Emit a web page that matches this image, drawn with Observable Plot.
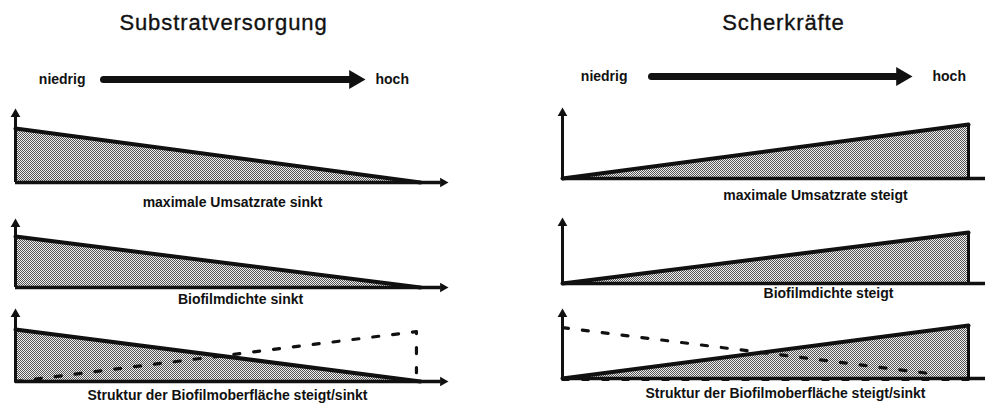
<!DOCTYPE html>
<html>
<head>
<meta charset="utf-8">
<script src="https://cdn.jsdelivr.net/npm/d3@7"></script>
<script src="https://cdn.jsdelivr.net/npm/@observablehq/plot@0.6"></script>
<style>
  html, body { margin: 0; padding: 0; background: #fff; }
  #chart { position: relative; width: 985px; height: 407px; overflow: hidden; background: #fff; }
  #chart svg { position: absolute; left: 0; top: 0; }
</style>
</head>
<body>
<svg width="0" height="0" style="position:absolute">
  <defs>
    <pattern id="halftone" patternUnits="userSpaceOnUse" width="2" height="2">
      <rect width="2" height="2" fill="#eeeeee"></rect>
      <rect width="1" height="1" fill="#555555"></rect>
      <rect x="1" y="1" width="1" height="1" fill="#555555"></rect>
    </pattern>
  </defs>
</svg>
<div id="chart"></div>
<script>
// ---------- data ----------
const columnTitles = ["Substratversorgung", "Scherkräfte"];
const scaleEnds = ["niedrig", "hoch"];
const labelsSubstrat = ["maximale Umsatzrate sinkt", "Biofilmdichte sinkt", "Struktur der Biofilmoberfläche steigt/sinkt"];
const labelsScher = ["maximale Umsatzrate steigt", "Biofilmdichte steigt", "Struktur der Biofilmoberfläche steigt/sinkt"];

// factor level: 0 = niedrig, 1 = hoch ; values = relative magnitude (1 = maximum)
const levels = [0, 1];
const umsatzSubstrat = [1, 0];
const dichteSubstrat = [1, 0];
const strukturSubstrat = [1, 0];
const umsatzScher = [0, 1];
const dichteScher = [0, 1];
const strukturScher = [0, 1];

// dashed "Struktur" curves
const dashSubstratX = [0, 0.99, 0.99];
const dashSubstratY = [0, 0.96, 0.17];
const dashScherX = [0, 0.924];
const dashScherY = [0.96, 0.075];
const dashScherBaseX = [0, 1];
const dashScherBaseY = [0, 0];

// ---------- layout (pixels) ----------
const W = 985, H = 407;
const layout = {
  substrat: {
    x0: 15, x1: 420, tip: 448, titleX: 223,
    header: {shaftStart: 103.5, tip: 365, y: 79, lowEnd: 85, highStart: 375},
    panels: [
      {base: 182, top: 128, axisTop: 108, labelX: 232, labelBase: 206},
      {base: 287, top: 236, axisTop: 218, labelX: 240, labelBase: 303},
      {base: 381, top: 329, axisTop: 308, labelX: 227, labelBase: 399}
    ]
  },
  scher: {
    x0: 562, x1: 968, tip: 1000, titleX: 783,
    header: {shaftStart: 651.5, tip: 912, y: 76, lowEnd: 627, highStart: 932},
    panels: [
      {base: 178, top: 124, axisTop: 107, labelX: 815, labelBase: 199},
      {base: 283, top: 232, axisTop: 217, labelX: 828, labelBase: 297},
      {base: 378, top: 325, axisTop: 308, labelX: 785, labelBase: 397}
    ]
  }
};
const font = '"Liberation Sans", Arial, Helvetica, sans-serif';
const baseStyle = {background: "transparent", fontFamily: font, overflow: "visible"};
const chart = document.getElementById("chart");

function tri(r) { // geometry of d3 triangle symbol for Plot dot radius r
  const a = Math.sqrt(Math.PI * r * r / (3 * Math.sqrt(3)));
  return {c: a, tip: 2 * a, h: 3 * a};
}

// ---------- titles ----------
chart.appendChild(Plot.plot({
  width: W, height: H, margin: 0,
  style: {...baseStyle, letterSpacing: "0.9px"},
  x: {type: "point", domain: columnTitles, range: [layout.substrat.titleX, layout.scher.titleX], padding: 0, axis: null},
  marks: [
    Plot.text(columnTitles, {x: d => d, text: d => d, frameAnchor: "top", dy: 29, lineAnchor: "bottom", fontSize: 22, fill: "#111", stroke: "#111", strokeWidth: 0.35})
  ]
}));

// ---------- header arrows ----------
function header(L) {
  const hd = tri(7);
  const base = L.tip - hd.h;
  return Plot.plot({
    width: W, height: H, style: baseStyle,
    x: {domain: [0, 1], range: [L.shaftStart, base], axis: null},
    y: {domain: [0, 1], range: [L.y, L.y - 1], axis: null},
    marks: [
      Plot.ruleY([0], {x1: 0, x2: 1, stroke: "#111", strokeWidth: 7, strokeLinecap: "round"}),
      Plot.dot([1], {x: d => d, y: 0, symbol: "triangle", r: 7, rotate: 90, fill: "#111", stroke: "none", dx: hd.c}),
      Plot.text([scaleEnds[0]], {x: 0, y: 0, text: d => d, textAnchor: "end", lineAnchor: "middle", dx: L.lowEnd - L.shaftStart, fontSize: 14, fontWeight: "bold", fill: "#111"}),
      Plot.text([scaleEnds[1]], {x: 1, y: 0, text: d => d, textAnchor: "start", lineAnchor: "middle", dx: L.highStart - base, fontSize: 14, fontWeight: "bold", fill: "#111"})
    ]
  });
}
chart.appendChild(header(layout.substrat.header));
chart.appendChild(header(layout.scher.header));

// ---------- panels ----------
function panel(C, P, values, label, rising, dashes) {
  const t = tri(3.6);
  const span = C.x1 - C.x0, hpx = P.base - P.top;
  const xTip = (C.tip - C.x0) / span;
  const xRuleEnd = (C.tip - t.h + 1 - C.x0) / span;
  const yTip = (P.base - P.axisTop) / hpx;
  const yRuleEnd = (P.base - P.axisTop - t.h + 1) / hpx;
  const data = levels.map((x, i) => ({x, y: values[i]}));
  const marks = [
    Plot.areaY(data, {x: "x", y: "y", fill: "url(#halftone)"}),
    Plot.line(data, {x: "x", y: "y", stroke: "#111", strokeWidth: 4}),
  ];
  if (rising) marks.push(Plot.ruleX([1], {x: d => d, y1: 0, y2: 1, stroke: "#111", strokeWidth: 3}));
  marks.push(
    Plot.ruleY([0], {y: d => d, x1: 0, x2: xRuleEnd, stroke: "#111", strokeWidth: 3.5}),
    Plot.ruleX([0], {x: d => d, y1: 0, y2: yRuleEnd, stroke: "#111", strokeWidth: 3}),
    Plot.dot([0], {x: 0, y: yTip, symbol: "triangle", r: 3.6, fill: "#111", stroke: "none", dy: t.tip}),
    Plot.dot([0], {x: xTip, y: 0, symbol: "triangle", r: 3.6, rotate: 90, fill: "#111", stroke: "none", dx: -t.tip})
  );
  for (const d of dashes || []) {
    const pts = d.x.map((x, i) => ({x, y: d.y[i]}));
    marks.push(Plot.line(pts, {x: "x", y: "y", stroke: "#111", strokeWidth: d.w || 3.2, strokeDasharray: "6,14", dy: d.dy || 0}));
  }
  marks.push(Plot.text([label], {x: (P.labelX - C.x0) / span, y: 0, text: d => d, dy: P.labelBase - P.base, lineAnchor: "bottom", fontSize: 14, fontWeight: "bold", fill: "#111"}));
  return Plot.plot({
    width: W, height: H, style: baseStyle,
    x: {domain: [0, 1], range: [C.x0, C.x1], axis: null},
    y: {domain: [0, 1], range: [P.base, P.top], axis: null},
    marks
  });
}

const S = layout.substrat, R = layout.scher;
chart.appendChild(panel(S, S.panels[0], umsatzSubstrat, labelsSubstrat[0], false));
chart.appendChild(panel(S, S.panels[1], dichteSubstrat, labelsSubstrat[1], false));
chart.appendChild(panel(S, S.panels[2], strukturSubstrat, labelsSubstrat[2], false,
  [{x: dashSubstratX, y: dashSubstratY}]));
chart.appendChild(panel(R, R.panels[0], umsatzScher, labelsScher[0], true));
chart.appendChild(panel(R, R.panels[1], dichteScher, labelsScher[1], true));
chart.appendChild(panel(R, R.panels[2], strukturScher, labelsScher[2], true,
  [{x: dashScherX, y: dashScherY}, {x: dashScherBaseX, y: dashScherBaseY, dy: 1.5, w: 2.2}]));
</script>
</body>
</html>
